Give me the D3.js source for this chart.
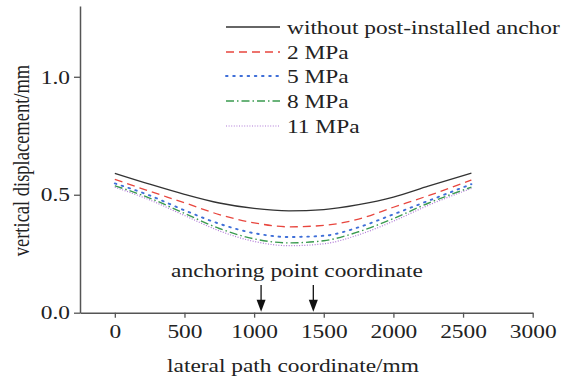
<!DOCTYPE html>
<html>
<head>
<meta charset="utf-8">
<script src="https://cdn.jsdelivr.net/npm/d3@7/dist/d3.min.js"></script>
<style>
  html, body { margin: 0; padding: 0; background: #fff; }
</style>
</head>
<body>
<script>
// Lateral positions along the path (mm)
const positions = [0, 250, 500, 750, 1000, 1250, 1500, 1750, 2000, 2250, 2560];

// Vertical displacement (mm) for each case
const withoutAnchor = [0.591, 0.545, 0.502, 0.465, 0.442, 0.432, 0.437, 0.458, 0.490, 0.536, 0.592];
const mpa2  = [0.565, 0.515, 0.466, 0.416, 0.381, 0.364, 0.370, 0.397, 0.447, 0.496, 0.562];
const mpa5  = [0.548, 0.497, 0.434, 0.377, 0.337, 0.321, 0.326, 0.362, 0.417, 0.474, 0.545];
const mpa8  = [0.538, 0.486, 0.421, 0.357, 0.313, 0.296, 0.305, 0.343, 0.399, 0.464, 0.532];
const mpa11 = [0.532, 0.478, 0.412, 0.347, 0.302, 0.284, 0.292, 0.330, 0.388, 0.455, 0.527];

const seriesNames = ["without post-installed anchor", "2 MPa", "5 MPa", "8 MPa", "11 MPa"];
const seriesValues = [withoutAnchor, mpa2, mpa5, mpa8, mpa11];

// Anchoring point coordinates (mm)
const anchorPoints = [1050, 1425];

const xTicks = [0, 500, 1000, 1500, 2000, 2500, 3000];
const yTicks = [0.0, 0.5, 1.0];

const styles = [
  { color: "#333333", dash: null, width: 1.3, cap: "butt" },
  { color: "#e8463e", dash: "8,5", width: 1.3, cap: "butt" },
  { color: "#3f6fd8", dash: "1.6,5.6", width: 1.9, cap: "round" },
  { color: "#3a9a4f", dash: "8,3,1.5,3", width: 1.4, cap: "butt" },
  { color: "#b07ad6", dash: "1,1.6", width: 1.2, cap: "butt" }
];

const FONT = "'Liberation Serif', 'Times New Roman', Times, 'DejaVu Serif', serif";
const FS = 19.5;      // text size
const WIDE = 1.2;     // horizontal glyph stretch

const W = 581, H = 381;
const svg = d3.select("body").append("svg").attr("width", W).attr("height", H)
  .attr("font-family", FONT);

const x = d3.scaleLinear().domain([-250, 3000]).range([80, 532.7]);
const y = d3.scaleLinear().domain([0, 1.3]).range([312.7, 6]);

const axisColor = "#555";

// Horizontal text, widened around its anchor point
function label(parent, tx, ty, str, anchor, size) {
  return parent.append("text")
    .attr("transform", `translate(${tx},${ty}) scale(${WIDE},1)`)
    .attr("text-anchor", anchor || "start")
    .attr("font-family", FONT)
    .attr("font-size", size || FS)
    .attr("fill", "#222")
    .text(str);
}

// X axis
const gx = svg.append("g").attr("transform", `translate(0,${y(0)})`)
  .call(d3.axisBottom(x).tickValues(xTicks).tickFormat(d3.format("d")).tickSize(5).tickSizeOuter(0).tickPadding(6));
gx.select(".domain").attr("stroke", axisColor).attr("stroke-width", 1.5);
gx.selectAll(".tick line").attr("stroke", axisColor).attr("stroke-width", 1.3);
gx.selectAll(".tick text")
  .attr("font-family", FONT).attr("font-size", FS).attr("fill", "#222")
  .attr("transform", `scale(${WIDE},1)`);

// Y axis
const gy = svg.append("g").attr("transform", `translate(${x(-250)},0)`)
  .call(d3.axisLeft(y).tickValues(yTicks).tickFormat(d3.format(".1f")).tickSize(6).tickSizeOuter(0).tickPadding(4));
gy.select(".domain").attr("stroke", axisColor).attr("stroke-width", 1.5);
gy.selectAll(".tick line").attr("stroke", axisColor).attr("stroke-width", 1.3);
gy.selectAll(".tick text")
  .attr("font-family", FONT).attr("font-size", FS).attr("fill", "#222")
  .attr("x", -10 / WIDE)
  .attr("transform", `scale(${WIDE},1)`);

// Axis titles
label(svg, 293, 372, "lateral path coordinate/mm", "middle");

svg.append("text")
  .attr("transform", `translate(29,160.5) rotate(-90) scale(1,${WIDE})`)
  .attr("text-anchor", "middle")
  .attr("font-family", FONT)
  .attr("font-size", 18.5)
  .attr("fill", "#222")
  .text("vertical displacement/mm");

// Curves
const line = d3.line()
  .x((d, i) => x(positions[i]))
  .y(d => y(d))
  .curve(d3.curveMonotoneX);

seriesValues.forEach((vals, i) => {
  const s = styles[i];
  svg.append("path")
    .datum(vals)
    .attr("d", line)
    .attr("fill", "none")
    .attr("stroke", s.color)
    .attr("stroke-width", s.width)
    .attr("stroke-linecap", s.cap)
    .attr("stroke-dasharray", s.dash);
});

// Anchoring point arrows
label(svg, 297, 277, "anchoring point coordinate", "middle");

anchorPoints.forEach(a => {
  const ax = x(a);
  const tip = y(0) - 1;
  svg.append("line")
    .attr("x1", ax).attr("x2", ax)
    .attr("y1", 285).attr("y2", tip - 8)
    .attr("stroke", "#111").attr("stroke-width", 1.3);
  svg.append("path")
    .attr("d", `M${ax - 4.5},${tip - 12} L${ax + 4.5},${tip - 12} L${ax},${tip} Z`)
    .attr("fill", "#111");
});

// Legend
const legendRowY = [27, 52, 76, 101, 126];
const lg = svg.append("g");
seriesNames.forEach((name, i) => {
  const s = styles[i];
  lg.append("line")
    .attr("x1", 226).attr("x2", 280)
    .attr("y1", legendRowY[i]).attr("y2", legendRowY[i])
    .attr("stroke", s.color)
    .attr("stroke-width", s.width)
    .attr("stroke-linecap", s.cap)
    .attr("stroke-dasharray", s.dash);
  label(lg, 287, legendRowY[i] + 6.5, name, "start");
});
</script>
</body>
</html>
